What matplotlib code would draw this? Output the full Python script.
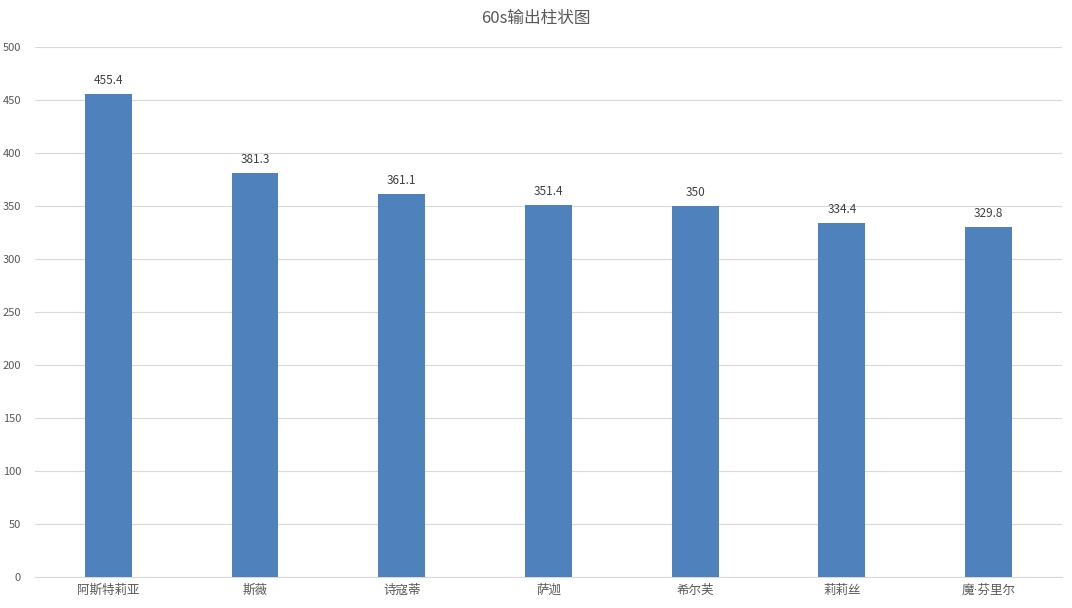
import matplotlib
matplotlib.use("Agg")
import matplotlib.pyplot as plt

plt.rcParams['font.family'] = ['Noto Sans CJK SC', 'DejaVu Sans']

names = ["阿斯特莉亚", "斯薇", "诗寇蒂", "萨迦", "希尔芙", "莉莉丝", "魔·芬里尔"]
output_60s = [455.4, 381.3, 361.1, 351.4, 350, 334.4, 329.8]
value_labels = ["455.4", "381.3", "361.1", "351.4", "350", "334.4", "329.8"]
y_ticks = [0, 50, 100, 150, 200, 250, 300, 350, 400, 450, 500]

text_col = "#595959"
bar_col = "#4F81BD"
grid_col = "#D9D9D9"

fig = plt.figure(figsize=(10.72, 6.08), dpi=100)
ax = fig.add_axes([0.0326, 0.051, 0.958, 0.8717])

x = range(len(names))
bars = ax.bar(x, output_60s, width=0.32, color=bar_col, zorder=3)
for b, lab in zip(bars, value_labels):
    ax.annotate(lab, (b.get_x() + b.get_width() / 2, b.get_height()),
                xytext=(0, 5), textcoords="offset points",
                ha="center", va="bottom", fontsize=8.5, color="#404040")

ax.set_xlim(-0.5, len(names) - 0.5)
ax.set_ylim(0, 500)
ax.set_yticks(y_ticks)
ax.set_xticks(list(x))
ax.set_xticklabels(names, family=['DejaVu Sans', 'Noto Sans CJK SC'])
ax.yaxis.grid(True, color=grid_col, linewidth=0.8, zorder=0)
ax.tick_params(axis="both", length=0, labelsize=8, colors=text_col)
ax.tick_params(axis="x", pad=5, labelsize=9)
ax.tick_params(axis="y", pad=10)
for s in ["top", "right", "left"]:
    ax.spines[s].set_visible(False)
ax.spines["bottom"].set_color(grid_col)
ax.spines["bottom"].set_linewidth(0.8)

fig.text(0.5, 0.97, "60s输出柱状图", ha="center", va="center",
         fontsize=12, color=text_col)

fig.savefig("out.png", dpi=100)
